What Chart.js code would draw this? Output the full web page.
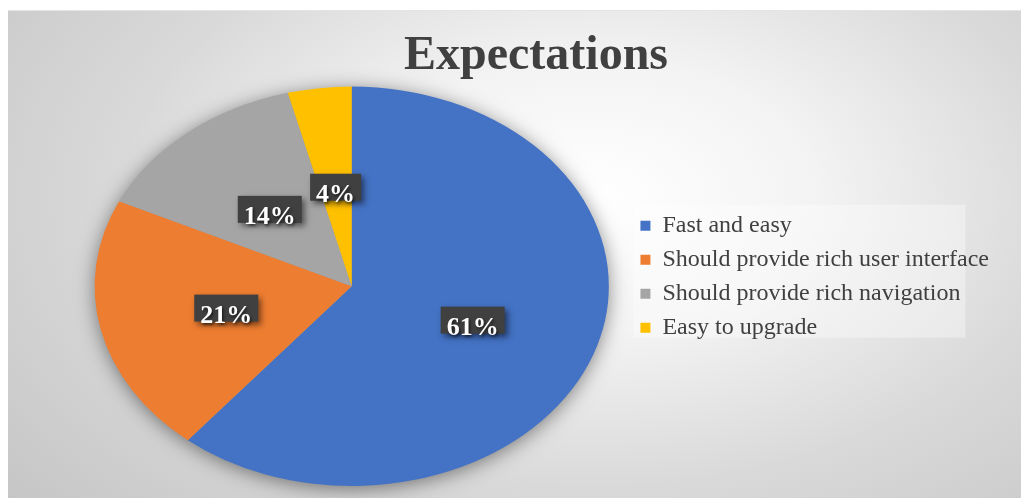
<!DOCTYPE html>
<html>
<head>
<meta charset="utf-8">
<script src="https://cdn.jsdelivr.net/npm/chart.js@4/dist/chart.umd.min.js"></script>
<style>
  html, body { margin: 0; background: #fff; }
  #wrap {
    position: absolute;
    left: 8px;
    top: 10px;
    width: 1013px;
    height: 488px;
    border-top: 1px solid #e4e4e4;
    box-sizing: border-box;
    background: radial-gradient(ellipse 78% 100% at 58% 38%, #ffffff 0%, #f3f3f3 28%, #d9d9d9 60%, #c4c4c4 100%);
  }
  canvas { display: block; }
</style>
</head>
<body>
<div id="wrap"><canvas id="pie" width="1013" height="487"></canvas></div>
<script>
const categories = [
  'Fast and easy',
  'Should provide rich user interface',
  'Should provide rich navigation',
  'Easy to upgrade'
];
const shares = [61, 21, 14, 4];
const sliceColors = ['#4472C4', '#ED7D31', '#A5A5A5', '#FFC000'];

const STRETCH = 1.2875; // the pie is drawn as an oval, wider than tall
const serif = "'Liberation Serif', 'Times New Roman', serif";

const ovalPie = {
  id: 'ovalPie',
  beforeDraw(chart) {
    // pale panel behind the legend entries
    const boxes = chart.legend && chart.legend.legendHitBoxes;
    if (!boxes || !boxes.length) return;
    const first = boxes[0], last = boxes[boxes.length - 1];
    const ctx = chart.ctx;
    ctx.save();
    ctx.fillStyle = 'rgba(255,255,255,0.35)';
    ctx.fillRect(first.left - 7, first.top - 9, 332, last.top - first.top + 31);
    ctx.restore();
  },
  beforeDatasetsDraw(chart) {
    const arc = chart.getDatasetMeta(0).data[0];
    const ctx = chart.ctx;
    ctx.save();
    ctx.translate(arc.x, arc.y);
    ctx.scale(STRETCH, 1);
    ctx.translate(-arc.x, -arc.y);
    // soft shadow under the whole pie
    ctx.save();
    ctx.shadowColor = 'rgba(0,0,0,0.5)';
    ctx.shadowBlur = 20;
    ctx.shadowOffsetY = 3;
    ctx.beginPath();
    ctx.arc(arc.x, arc.y, arc.outerRadius - 1, 0, Math.PI * 2);
    ctx.fillStyle = '#999';
    ctx.fill();
    ctx.restore();
  },
  afterDatasetsDraw(chart) {
    const ctx = chart.ctx;
    ctx.restore();
    // percentage labels in dark boxes
    const meta = chart.getDatasetMeta(0);
    ctx.save();
    ctx.font = 'bold 26px ' + serif;
    meta.data.forEach((el, i) => {
      const p = el.tooltipPosition();
      const cx = el.x + (p.x - el.x) * STRETCH;
      const cy = p.y;
      const text = shares[i] + '%';
      const w = ctx.measureText(text).width + 12;
      const h = 27;
      ctx.save();
      ctx.shadowColor = 'rgba(0,0,0,0.5)';
      ctx.shadowBlur = 6;
      ctx.shadowOffsetX = 3;
      ctx.shadowOffsetY = 3;
      ctx.fillStyle = '#404040';
      ctx.fillRect(cx - w / 2, cy - h / 2, w, h);
      ctx.restore();
      ctx.save();
      ctx.shadowColor = 'rgba(0,0,0,0.6)';
      ctx.shadowBlur = 3;
      ctx.shadowOffsetX = 1.5;
      ctx.shadowOffsetY = 1.5;
      ctx.fillStyle = '#ffffff';
      ctx.textAlign = 'center';
      ctx.textBaseline = 'alphabetic';
      ctx.fillText(text, cx, cy + 15);
      ctx.restore();
    });
    ctx.restore();
  }
};

new Chart(document.getElementById('pie'), {
  type: 'pie',
  data: {
    labels: categories,
    datasets: [{
      data: shares,
      backgroundColor: sliceColors,
      borderWidth: 0
    }]
  },
  options: {
    responsive: false,
    animation: false,
    layout: { padding: { left: 65, right: 22, top: 0, bottom: 12 } },
    plugins: {
      title: {
        display: true,
        text: 'Expectations',
        color: '#404040',
        font: { family: serif, size: 48, weight: 'bold' },
        padding: { top: 17, bottom: 1 }
      },
      legend: {
        position: 'right',
        // empty title only pushes the entries down a little
        title: { display: true, text: '', padding: { top: 21, bottom: 21 } },
        labels: {
          boxWidth: 10,
          boxHeight: 10,
          padding: 10,
          color: '#404040',
          font: { family: serif, size: 24 }
        }
      },
      tooltip: { enabled: false }
    }
  },
  plugins: [ovalPie]
});
</script>
</body>
</html>
